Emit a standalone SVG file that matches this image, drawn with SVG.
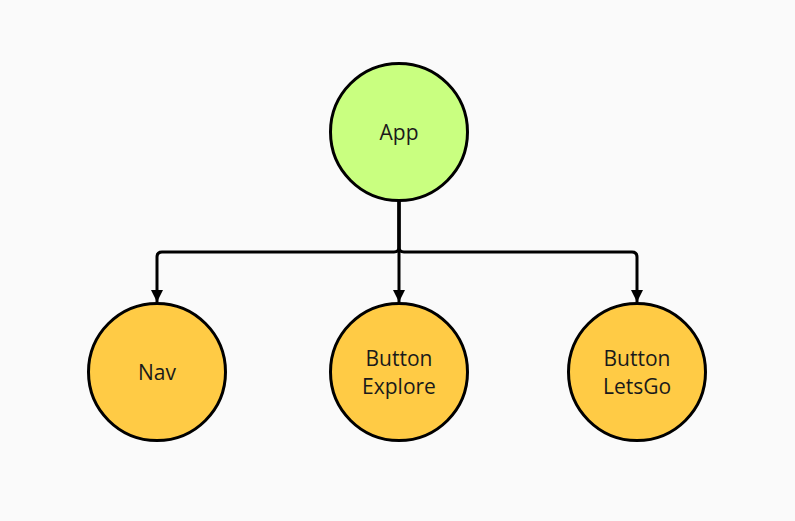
<svg xmlns="http://www.w3.org/2000/svg" width="795" height="521" viewBox="0 0 795 521">
<defs>
<style>
.node{stroke:#000;stroke-width:3}
.root{fill:#c9ff80}
.child{fill:#ffcb45}
.lbl{font-family:"Open Sans","Noto Sans",sans-serif;font-size:21px;fill:#1a1a1a;text-anchor:middle}
.edge{fill:none;stroke:#000;stroke-width:3}
</style>
<marker id="arr" viewBox="0 0 12 12" refX="12" refY="6" markerWidth="12" markerHeight="12" markerUnits="userSpaceOnUse" orient="auto">
<path d="M0 0 L12 6 L0 12 Z" fill="#000"/>
</marker>
</defs>
<rect width="795" height="521" fill="#fafafa"/>
<g id="connectors">
<path class="edge" d="M399 201 V247 Q399 252 394 252 H162 Q157 252 157 257 V302" marker-end="url(#arr)"/>
<path class="edge" d="M399 201 V302" marker-end="url(#arr)"/>
<path class="edge" d="M399 201 V247 Q399 252 404 252 H632 Q637 252 637 257 V302" marker-end="url(#arr)"/>
</g>
<g id="app">
<circle class="node root" cx="399" cy="132" r="68.5"/>
<text class="lbl" x="399" y="140">App</text>
</g>
<g id="nav">
<circle class="node child" cx="157" cy="372" r="68.5"/>
<text class="lbl" x="157" y="380">Nav</text>
</g>
<g id="button-explore">
<circle class="node child" cx="399" cy="372" r="68.5"/>
<text class="lbl" x="399" y="366">Button</text>
<text class="lbl" x="399" y="394">Explore</text>
</g>
<g id="button-letsgo">
<circle class="node child" cx="637" cy="372" r="68.5"/>
<text class="lbl" x="637" y="366">Button</text>
<text class="lbl" x="637" y="394">LetsGo</text>
</g>
</svg>
